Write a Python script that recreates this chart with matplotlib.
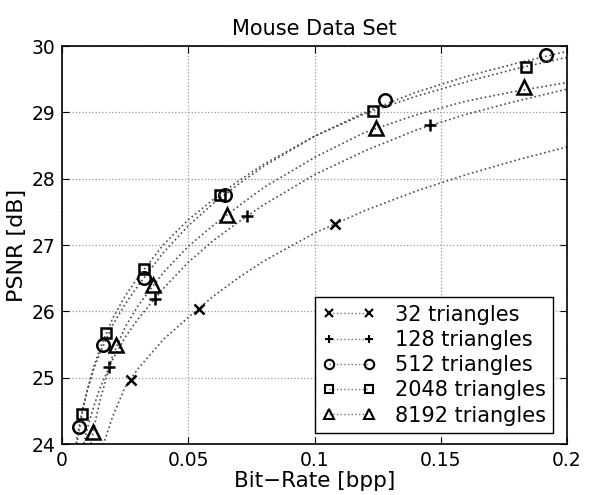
import matplotlib
matplotlib.use("Agg")
import matplotlib.pyplot as plt
from matplotlib.lines import Line2D

# measured points (bit-rate [bpp], PSNR [dB])
rate_32 = [0.0273, 0.0543, 0.108]
psnr_32 = [24.97, 26.03, 27.32]
rate_128 = [0.0186, 0.0368, 0.0733, 0.1457]
psnr_128 = [25.16, 26.19, 27.44, 28.81]
rate_512 = [0.0067, 0.0163, 0.0325, 0.0645, 0.128, 0.1917]
psnr_512 = [24.26, 25.49, 26.50, 27.76, 29.19, 29.87]
rate_2048 = [0.0079, 0.0174, 0.0325, 0.0626, 0.123, 0.1838]
psnr_2048 = [24.45, 25.67, 26.64, 27.76, 29.02, 29.69]
rate_8192 = [0.0123, 0.0214, 0.036, 0.0653, 0.1243, 0.183]
psnr_8192 = [24.18, 25.49, 26.40, 27.45, 28.77, 29.38]

# dotted fit curves
curve_x = [0.004, 0.006, 0.008, 0.01, 0.0125, 0.015, 0.02, 0.025, 0.03, 0.04,
           0.05, 0.06, 0.07, 0.08, 0.1, 0.12, 0.14, 0.16, 0.18, 0.2]
curve_32 = [21.9, 22.7, 23.2, 23.05, 23.47, 23.83, 24.41, 24.86, 25.13, 25.57,
            25.91, 26.23, 26.51, 26.76, 27.18, 27.52, 27.81, 28.06, 28.28, 28.48]
curve_128 = [22.8, 23.3, 23.9, 24.23, 24.56, 24.84, 25.27, 25.61, 25.88, 26.34,
             26.74, 27.07, 27.35, 27.61, 28.06, 28.42, 28.73, 28.97, 29.17, 29.35]
curve_512 = [23.55, 24.11, 24.50, 24.81, 25.12, 25.37, 25.79, 26.11, 26.38, 26.88,
             27.29, 27.63, 27.92, 28.19, 28.64, 29.0, 29.3, 29.54, 29.74, 29.92]
curve_2048 = [23.40, 24.03, 24.47, 24.81, 25.16, 25.44, 25.89, 26.23, 26.51, 27.0,
              27.38, 27.69, 27.97, 28.22, 28.64, 28.98, 29.24, 29.46, 29.66, 29.83]
curve_8192 = [22.4, 22.9, 23.3, 23.69, 24.22, 24.65, 25.33, 25.76, 26.08, 26.58,
              26.98, 27.30, 27.59, 27.87, 28.32, 28.70, 28.96, 29.17, 29.32, 29.45]

labels = ["32 triangles", "128 triangles", "512 triangles",
          "2048 triangles", "8192 triangles"]
x_ticks = [0, 0.05, 0.1, 0.15, 0.2]
x_ticklabels = ["0", "0.05", "0.1", "0.15", "0.2"]
y_ticks = [24, 25, 26, 27, 28, 29, 30]

plt.rcParams["font.family"] = ["DejaVu Sans"]

fig = plt.figure(figsize=(5.93, 4.95), dpi=100)
ax = fig.add_axes([0.1046, 0.103, 0.8516, 0.804])

series = [
    (rate_32, psnr_32, curve_32, "x", 7),
    (rate_128, psnr_128, curve_128, "+", 8.5),
    (rate_512, psnr_512, curve_512, "o", 9),
    (rate_2048, psnr_2048, curve_2048, "s", 7),
    (rate_8192, psnr_8192, curve_8192, "^", 10),
]

handles = []
for (rx, ry, cy, m, ms), lab in zip(series, labels):
    ax.plot(curve_x, cy, linestyle=":", color="0.3", linewidth=1.2)
    ax.plot(rx, ry, linestyle="none", marker=m, markersize=ms,
            markerfacecolor="none", markeredgecolor="black", markeredgewidth=1.8)
    handles.append(Line2D([], [], linestyle=":", color="0.45", linewidth=1.0,
                          marker=m, markersize=ms * 0.75, markerfacecolor="none",
                          markeredgecolor="black", markeredgewidth=1.5, label=lab))

ax.set_xlim(0, 0.2)
ax.set_ylim(24, 30)
ax.set_xticks(x_ticks)
ax.set_xticklabels(x_ticklabels)
ax.set_yticks(y_ticks)
ax.tick_params(direction="in", length=5, top=True, right=True, labelsize=13.5, pad=5)
ax.grid(True, linestyle=":", color="0.6", linewidth=0.9)
for s in ax.spines.values():
    s.set_linewidth(1.2)

ax.set_title("Mouse Data Set", fontsize=15, pad=8)
ax.set_xlabel("Bit\u2212Rate [bpp]", fontsize=15.5, labelpad=1)
ax.set_ylabel("PSNR [dB]", fontsize=16, labelpad=3)

leg = ax.legend(handles=handles, loc="lower right", numpoints=2,
                fontsize=15, handlelength=2.5, handletextpad=0.95,
                labelspacing=0.25, borderpad=0.35, borderaxespad=0,
                fancybox=False, framealpha=1, edgecolor="black",
                bbox_to_anchor=(0.972, 0.028))
leg.get_frame().set_linewidth(1.0)

fig.savefig("out.png", dpi=100)
